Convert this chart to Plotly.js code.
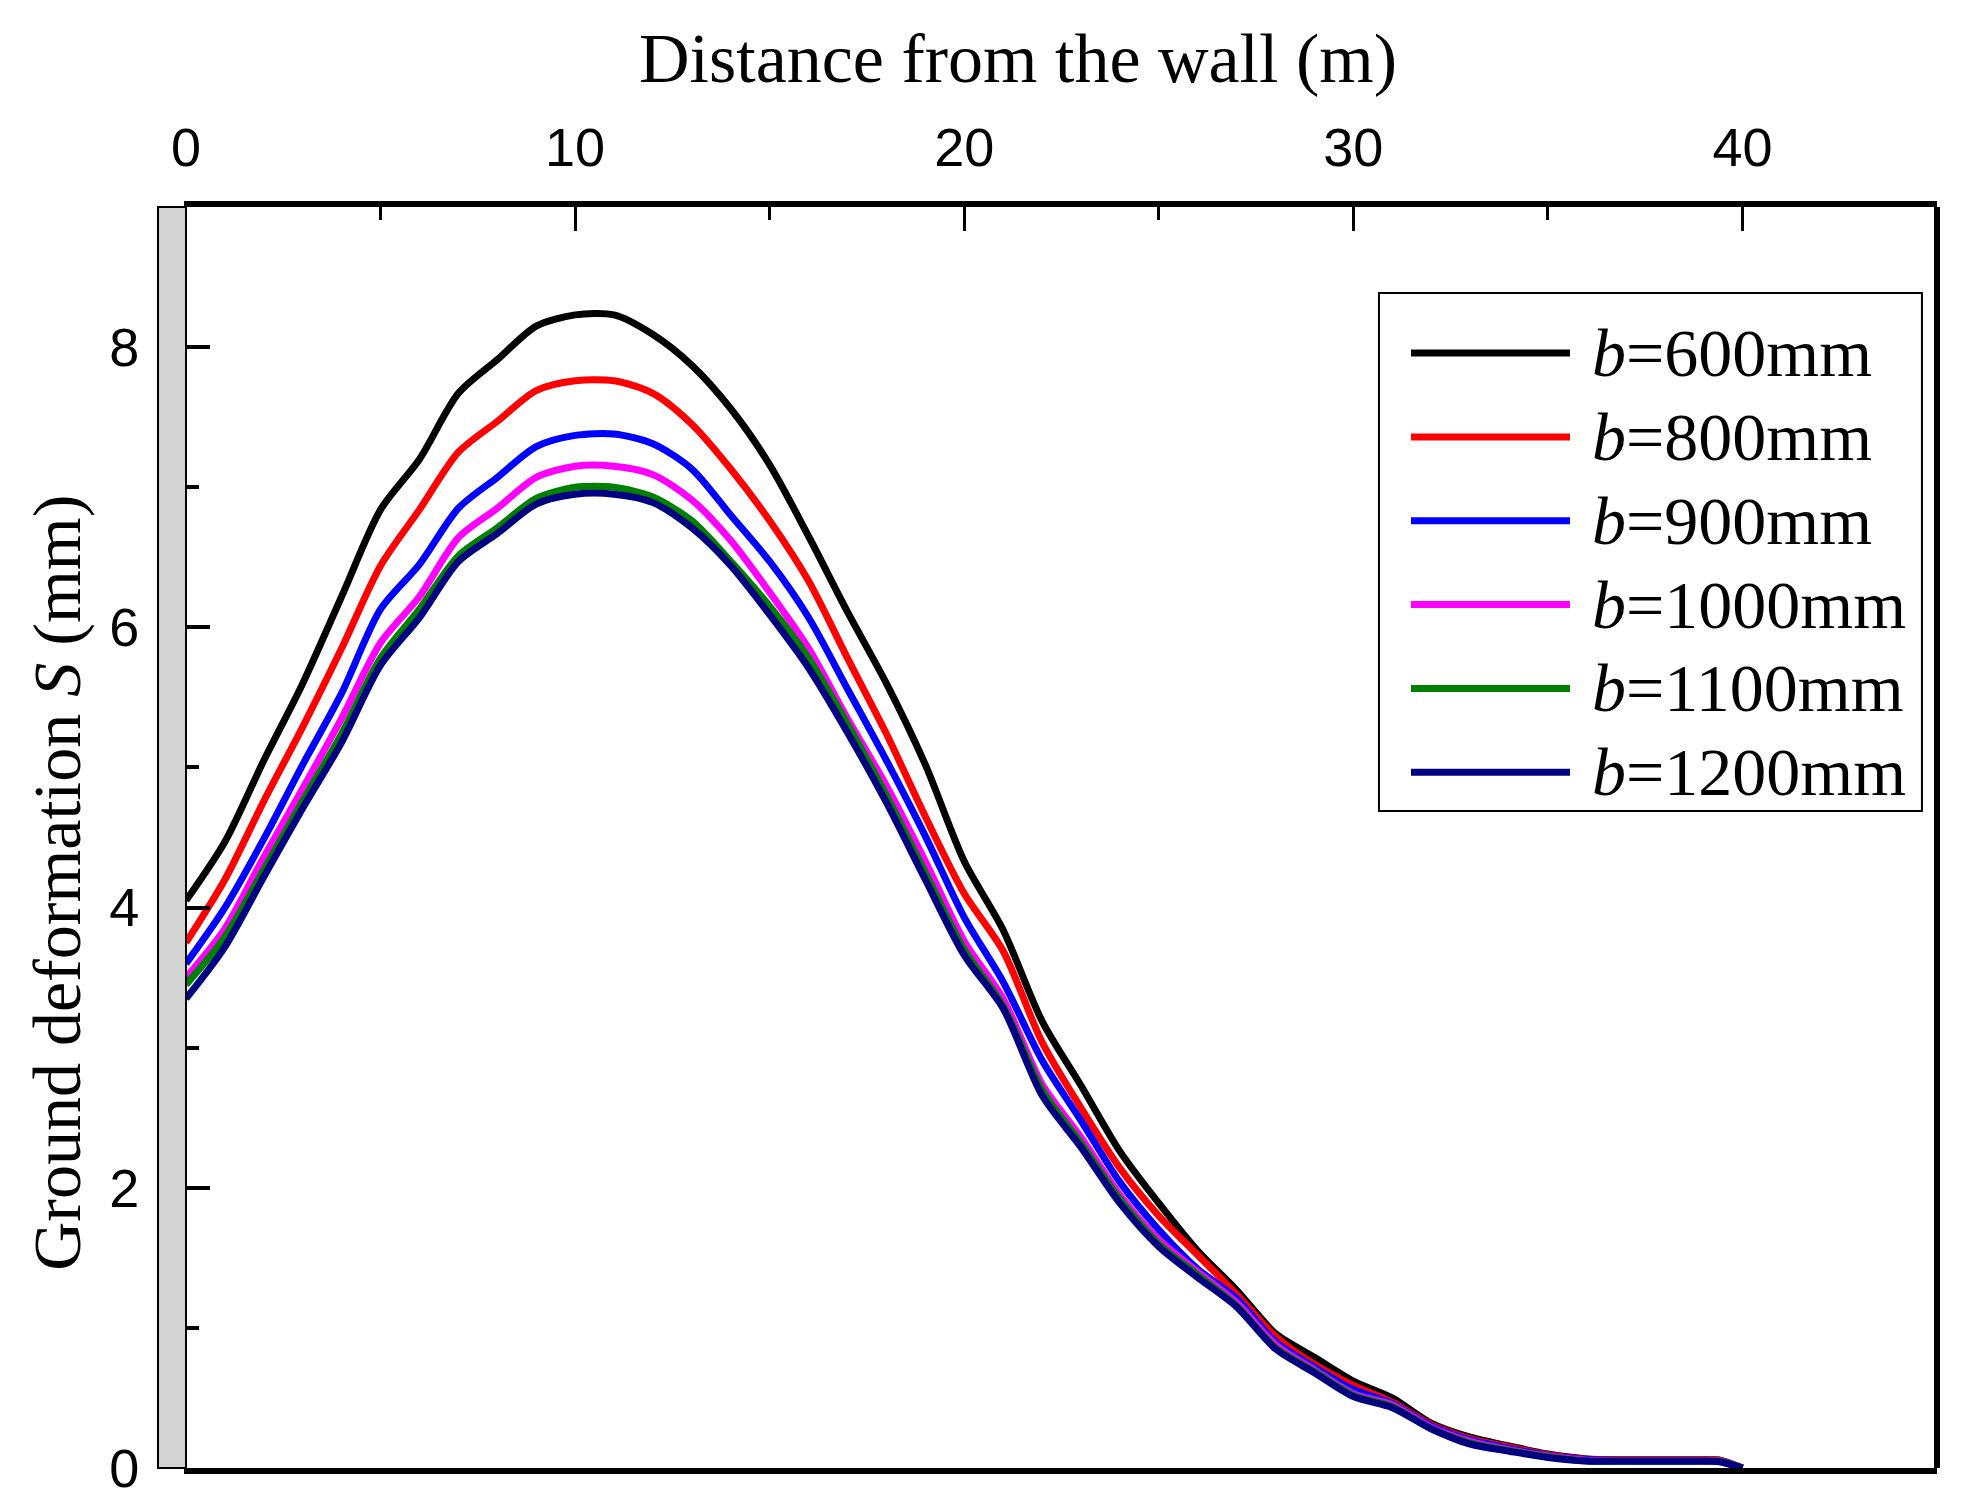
<!DOCTYPE html>
<html>
<head>
<meta charset="utf-8">
<script src="https://cdn.plot.ly/plotly-3.0.1.min.js"></script>
<style>
  html, body { margin:0; padding:0; background:#fff; }
  #chart { width:1970px; height:1511px; }
</style>
</head>
<body>
<div id="chart"></div>
<script>
// ── Data ──────────────────────────────────────────────────────────────────────
const DIST = [0,1,2,3,4,5,6,7,8,9,10,11,12,13,14,15,16,17,18,19,20,
              21,22,23,24,25,26,27,28,29,30,31,32,33,34,35,36,37,38,39,39.4,40];

const S_600  = [4.05,4.47,5.05,5.60,6.22,6.84,7.20,7.67,7.91,8.15,8.23,8.23,8.09,7.87,7.56,7.16,6.65,6.11,5.60,5.02,4.33,
                3.84,3.19,2.73,2.26,1.89,1.55,1.27,0.96,0.79,0.62,0.50,0.32,0.22,0.157,0.10,0.065,0.06,0.06,0.06,0.058,0];
const S_800  = [3.75,4.20,4.76,5.29,5.85,6.44,6.84,7.25,7.47,7.69,7.76,7.76,7.67,7.45,7.13,6.76,6.33,5.78,5.24,4.65,4.10,
                3.69,3.04,2.57,2.14,1.80,1.52,1.24,0.94,0.74,0.59,0.47,0.31,0.21,0.15,0.095,0.063,0.06,0.06,0.06,0.056,0];
const S_900  = [3.60,4.00,4.49,5.02,5.53,6.13,6.45,6.85,7.07,7.29,7.37,7.38,7.31,7.13,6.80,6.47,6.07,5.56,5.05,4.51,3.93,
                3.47,2.91,2.48,2.04,1.70,1.42,1.21,0.90,0.72,0.56,0.46,0.30,0.20,0.14,0.09,0.06,0.055,0.055,0.055,0.05,0];
const S_1000 = [3.50,3.85,4.36,4.85,5.35,5.89,6.22,6.64,6.85,7.07,7.15,7.15,7.09,6.91,6.62,6.25,5.85,5.35,4.87,4.33,3.76,
                3.35,2.74,2.36,1.95,1.63,1.40,1.18,0.88,0.70,0.53,0.45,0.29,0.19,0.13,0.085,0.055,0.052,0.052,0.052,0.05,0];
const S_1100 = [3.45,3.79,4.27,4.76,5.24,5.78,6.13,6.51,6.71,6.92,7.00,7.00,6.93,6.76,6.47,6.15,5.78,5.31,4.80,4.25,3.70,
                3.30,2.70,2.32,1.92,1.60,1.38,1.16,0.86,0.69,0.52,0.44,0.28,0.18,0.125,0.08,0.05,0.05,0.05,0.05,0.048,0];
const S_1200 = [3.35,3.72,4.22,4.71,5.18,5.73,6.07,6.47,6.67,6.88,6.95,6.95,6.89,6.71,6.44,6.09,5.71,5.25,4.75,4.20,3.66,
                3.28,2.66,2.29,1.89,1.58,1.36,1.15,0.85,0.68,0.51,0.43,0.28,0.17,0.12,0.075,0.05,0.048,0.048,0.048,0.045,0];

const SERIES = [S_600, S_800, S_900, S_1000, S_1100, S_1200];
const B_MM   = ['600', '800', '900', '1000', '1100', '1200'];
const COLORS = ['#000000', '#ff0000', '#0000ff', '#ff00ff', '#008000', '#000080'];

// ── Style ─────────────────────────────────────────────────────────────────────
const SERIF = '"Liberation Serif", "Times New Roman", serif';
const SANS  = '"Liberation Sans", Arial, sans-serif';
const LW = 7;

const traces = SERIES.map((ys, i) => ({
  x: DIST, y: ys, mode: 'lines', name: 'b=' + B_MM[i] + 'mm',
  line: { color: COLORS[i], width: LW, shape: 'spline', smoothing: 0.8 },
  showlegend: false,
}));

// ── Hand-built legend (long line samples, italic b) ───────────────────────────
const LEG = { x0: 0.6813, x1: 0.9914, y0: 0.521, y1: 0.9318,
              lineX0: 0.6996, lineX1: 0.7904, textX: 0.8018, row0: 0.8842, step: 0.0665 };

const shapes = [
  // the wall
  { type:'rect', xref:'paper', yref:'paper', x0:-0.016, x1:0, y0:0, y1:1,
    fillcolor:'#d3d3d3', line:{ color:'#000', width:2 }, layer:'above' },
  // right frame
  { type:'line', xref:'paper', yref:'paper', x0:1, x1:1, y0:0, y1:1,
    line:{ color:'#000', width:6 } },
  // legend box
  { type:'rect', xref:'paper', yref:'paper', x0:LEG.x0, x1:LEG.x1, y0:LEG.y0, y1:LEG.y1,
    fillcolor:'#fff', line:{ color:'#000', width:2 }, layer:'above' },
];

const annotations = [
  // axis titles (placed off-centre like the original)
  { xref:'paper', yref:'paper', x:0.475, y:1.118, xanchor:'center', yanchor:'middle',
    text:'Distance from the wall (m)', showarrow:false,
    font:{ family:SERIF, size:70, color:'#000' } },
  { xref:'paper', yref:'paper', x:-0.0737, y:0.464, xanchor:'center', yanchor:'middle', textangle:-90,
    text:'Ground deformation <i>S</i> (mm)', showarrow:false,
    font:{ family:SERIF, size:68, color:'#000' } },
];

B_MM.forEach((b, i) => {
  const yy = LEG.row0 - i * LEG.step;
  shapes.push({ type:'line', xref:'paper', yref:'paper', x0:LEG.lineX0, x1:LEG.lineX1, y0:yy, y1:yy,
    line:{ color:COLORS[i], width:LW }, layer:'above' });
  annotations.push({ xref:'paper', yref:'paper', x:LEG.textX, y:yy, xanchor:'left', yanchor:'middle',
    text:'<i>b</i>=' + b + 'mm', showarrow:false, font:{ family:SERIF, size:68, color:'#000' } });
});

const layout = {
  width: 1970, height: 1511,
  paper_bgcolor: '#fff', plot_bgcolor: '#fff',
  margin: { l:186, r:33, t:207, b:43 },
  font: { family: SANS, color:'#000' },
  xaxis: {
    side: 'top', range: [0, 45], dtick: 10, tick0: 0,
    showgrid: false, zeroline: false,
    showline: true, linecolor:'#000', linewidth: 6, mirror: true,
    ticks: 'inside', ticklen: 24, tickwidth: 3, tickcolor:'#000',
    minor: { dtick: 5, ticks: 'inside', ticklen: 13, tickwidth: 3, tickcolor:'#000' },
    tickfont: { family: SANS, size: 54, color:'#000' },
    ticklabelstandoff: 13,
  },
  yaxis: {
    range: [0, 9], dtick: 2, tick0: 0,
    showgrid: false, zeroline: false,
    showline: true, linecolor:'#000', linewidth: 2, mirror: false,
    ticks: 'inside', ticklen: 24, tickwidth: 4, tickcolor:'#000',
    minor: { dtick: 1, ticks: 'inside', ticklen: 13, tickwidth: 4, tickcolor:'#000' },
    tickfont: { family: SANS, size: 54, color:'#000' },
    ticklabelstandoff: 34,
  },
  shapes, annotations,
};

Plotly.newPlot('chart', traces, layout, { displayModeBar:false, staticPlot:true });
</script>
</body>
</html>
